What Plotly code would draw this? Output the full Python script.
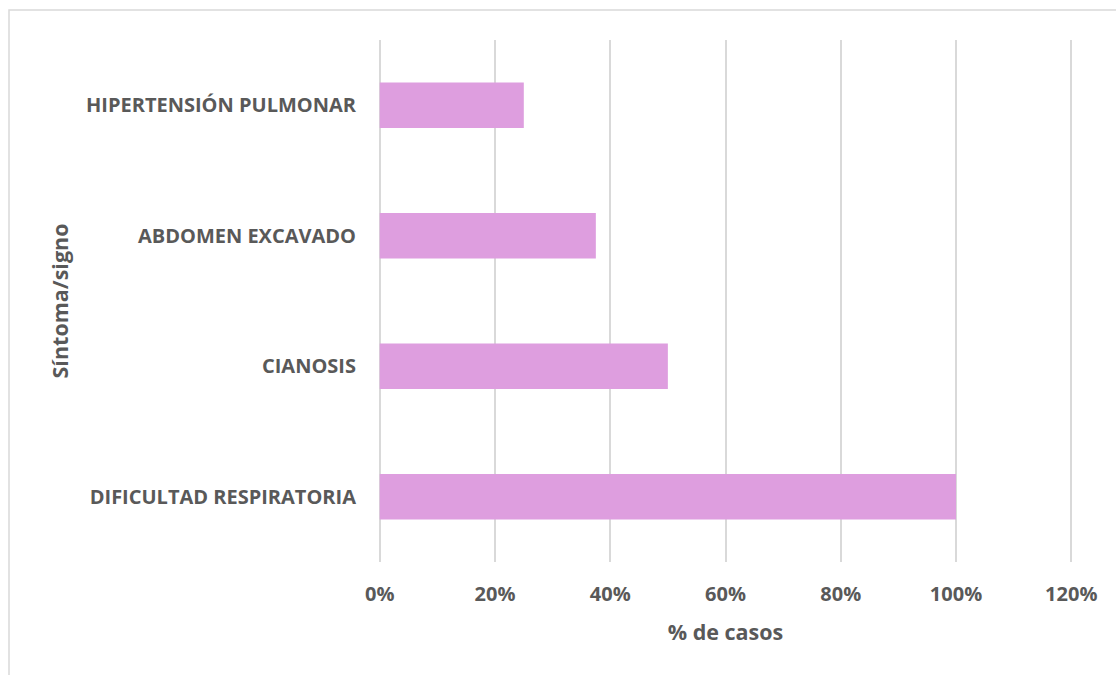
import plotly.graph_objects as go

categories = ["DIFICULTAD RESPIRATORIA", "CIANOSIS", "ABDOMEN EXCAVADO", "HIPERTENSIÓN PULMONAR"]
values = [100, 50, 37.5, 25]
x_ticks = [0, 20, 40, 60, 80, 100, 120]
x_title = "% de casos"
y_title = "Síntoma/signo"

W, H = 1116, 675
ml, mr, mt, mb = 378, 43, 40, 113
pw, ph = W - ml - mr, H - mt - mb

font_family = "Open Sans, Noto Sans, DejaVu Sans, sans-serif"
txt = "#595959"
grid = "#D9D9D9"

fig = go.Figure(go.Bar(
    x=values, y=categories, orientation="h",
    marker=dict(color="#DE9EDF", line=dict(width=0)),
    width=0.35,
))

fig.update_layout(
    width=W, height=H,
    margin=dict(l=ml, r=mr, t=mt, b=mb, pad=0),
    paper_bgcolor="white", plot_bgcolor="white",
    showlegend=False,
    font=dict(family=font_family, color=txt, size=20),
    xaxis=dict(
        range=[-0.3, 120.3], tickvals=x_ticks, ticktext=[f"{v}%" for v in x_ticks],
        showgrid=True, gridcolor=grid, gridwidth=1.5, zeroline=False,
        showline=False, ticks="", ticklen=0,
        ticklabelstandoff=18,
        tickfont=dict(size=20, family=font_family, color=txt, weight="bold"),
        title=dict(text=x_title, standoff=18,
                   font=dict(size=21.5, family=font_family, color=txt, weight="bold")),
    ),
    yaxis=dict(
        categoryorder="array", categoryarray=categories,
        range=[-0.5, 3.5],
        showgrid=False, zeroline=False, showline=False, ticks="",
        ticklabelstandoff=21,
        tickfont=dict(size=20, family=font_family, color=txt, weight="bold"),
        title=dict(text=y_title, standoff=11,
                   font=dict(size=21.5, family=font_family, color=txt, weight="bold")),
    ),
    shapes=[dict(
        type="rect", xref="paper", yref="paper",
        x0=(9 - ml) / pw, x1=(W + 20 - ml) / pw,
        y0=-(H + 20 - (mt + ph)) / ph, y1=(mt + ph - 10) / ph,
        line=dict(color=grid, width=1.5), fillcolor="rgba(0,0,0,0)", layer="below",
    )],
)

fig.write_html(
    "out.html",
    config={"displayModeBar": False},
    post_script="document.body.style.margin='0';document.body.style.overflow='hidden';",
)
